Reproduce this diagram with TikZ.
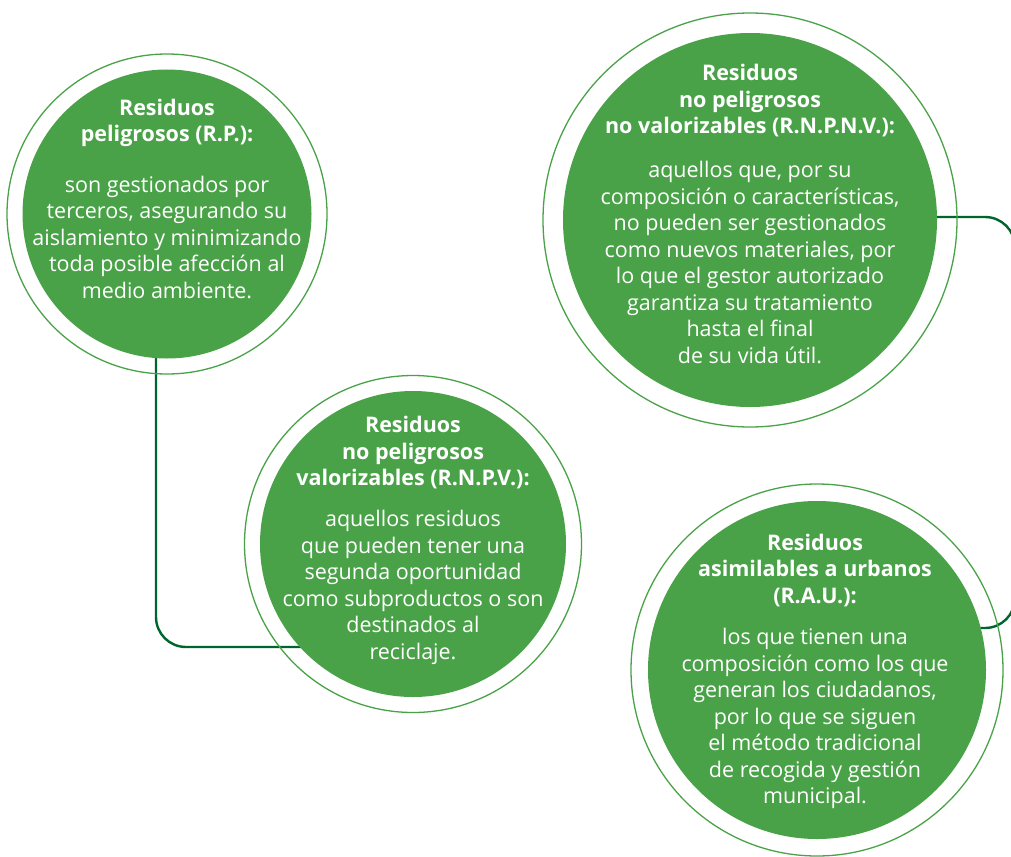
\documentclass[tikz,border=0pt]{standalone}
\usepackage{fontspec}
\setmainfont{Open Sans}
\usetikzlibrary{backgrounds}
\definecolor{leaf}{RGB}{74,162,72}
\definecolor{ringgreen}{RGB}{74,162,72}
\definecolor{linkgreen}{RGB}{0,100,45}
\begin{document}
\begin{tikzpicture}[x=1pt,y=-1pt,
  ringc/.style={circle,draw=ringgreen,line width=1.3pt,inner sep=0pt},
  discc/.style={circle,fill=leaf,inner sep=0pt},
  titletext/.style={anchor=north,align=center,text=white,inner sep=0pt,font=\fontsize{21.5}{26.5}\selectfont\bfseries},
  bodytext/.style={anchor=north,align=center,text=white,inner sep=0pt,font=\fontsize{21.5}{26.5}\selectfont},
  link/.style={draw=linkgreen,line width=2.4pt,rounded corners=30pt}]
\useasboundingbox (0,0) rectangle (1011,856);
% circle 1
\node[ringc,minimum size=320pt] (r1) at (167,214) {};
\node[discc,minimum size=289pt] (c1) at (167,214) {};
\node[titletext] (t1) at (167,96.45) {\strut Residuos\\peligrosos (R.P.):};
\node[bodytext] (b1) at (167,173.45) {\strut son gestionados por\\terceros, asegurando su\\aislamiento y minimizando\\toda posible afección al\\medio ambiente.};
% circle 2
\node[ringc,minimum size=337pt] (r2) at (413,544) {};
\node[discc,minimum size=306pt] (c2) at (413,544) {};
\node[titletext] (t2) at (413,413.95) {\strut Residuos\\no peligrosos\\valorizables (R.N.P.V.):};
\node[bodytext] (b2) at (413,507.95) {\strut aquellos residuos\\que pueden tener una\\segunda oportunidad\\como subproductos o son\\destinados al\\reciclaje.};
% circle 3
\node[ringc,minimum size=414pt] (r3) at (750,220) {};
\node[discc,minimum size=374pt] (c3) at (750,220) {};
\node[titletext] (t3) at (750,62.15) {\strut Residuos\\no peligrosos\\no valorizables (R.N.P.N.V.):};
\node[bodytext] (b3) at (750,159.15) {\strut aquellos que, por su\\composición o características,\\no pueden ser gestionados\\como nuevos materiales, por\\lo que el gestor autorizado\\garantiza su tratamiento\\hasta el final\\de su vida útil.};
% circle 4
\node[ringc,minimum size=372pt] (r4) at (817,670) {};
\node[discc,minimum size=338pt] (c4) at (817,670) {};
\node[titletext] (t4) at (815,531.45) {\strut Residuos\\asimilables a urbanos\\(R.A.U.):};
\node[bodytext] (b4) at (815,625.75) {\strut los que tienen una\\composición como los que\\generan los ciudadanos,\\por lo que se siguen\\el método tradicional\\de recogida y gestión\\municipal.};
% connectors
\begin{scope}[on background layer]
\coordinate (k1) at (156,647);
\draw[link] (c1.center -| k1) -- (k1) -- (c2.center |- k1);
\coordinate (k2) at (1015,217);
\coordinate (k3) at (1015,628);
\draw[link] (c3.center |- k2) -- (k2) -- (k3) -- (c4.center |- k3);
\end{scope}
\end{tikzpicture}
\end{document}
